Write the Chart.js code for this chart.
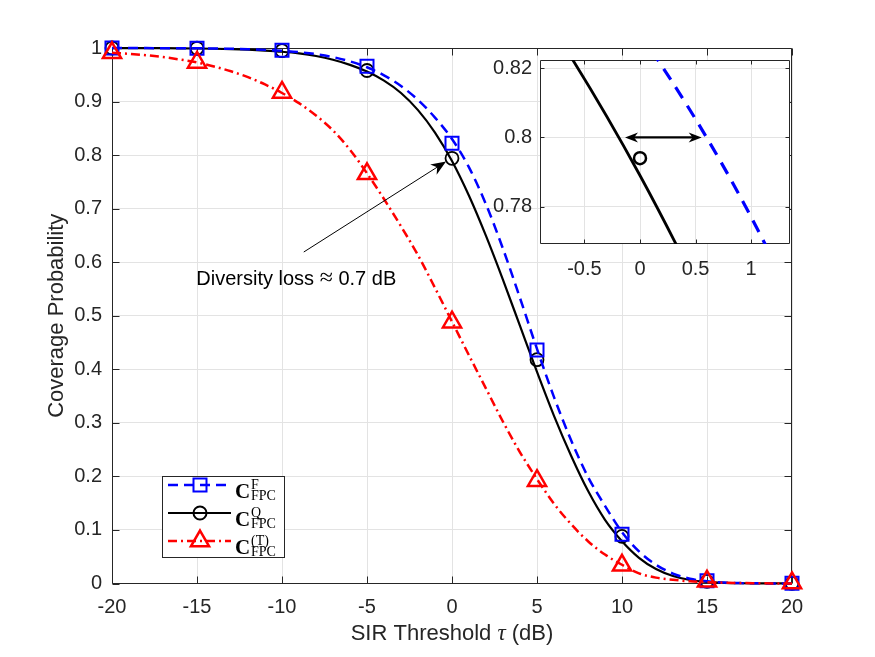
<!DOCTYPE html>
<html>
<head>
<meta charset="utf-8">
<script src="https://cdn.jsdelivr.net/npm/chart.js@4.4.0/dist/chart.umd.min.js"></script>
<style>
  html, body { margin: 0; padding: 0; background: #fff; }
  #wrap { position: relative; width: 875px; height: 657px; }
  #main { position: absolute; left: 0; top: 0; }
  #inset { position: absolute; left: 470px; top: 40px; }
</style>
</head>
<body>
<div id="wrap">
  <canvas id="main" width="875" height="657"></canvas>
  <canvas id="inset" width="405" height="250"></canvas>
</div>
<script>
// ===== Datos =====
const sirDb = [-20,-19,-18,-17,-16,-15,-14,-13,-12,-11,-10,-9,-8,-7,-6,-5,-4,-3,-2,-1,0,
               1,2,3,4,5,6,7,8,9,10,11,12,13,14,15,16,17,18,19,20];
// C_FPC^F (analítica, azul discontinua)
const covF = [1.0000,0.9999,0.9998,0.9997,0.9996,0.9994,0.9990,0.9985,0.9977,0.9965,0.9948,
              0.9922,0.9885,0.9830,0.9750,0.9640,0.9490,0.9290,0.9030,0.8700,0.8300,
              0.7770,0.7080,0.6250,0.5330,0.4380,0.3480,0.2680,0.1990,0.1450,0.0960,
              0.0600,0.0350,0.0185,0.0090,0.0040,0.0017,0.0007,0.0003,0.0001,0.0000];
// C_FPC^Q (analítica, negra)
const covQ = [0.9999,0.9998,0.9997,0.9996,0.9994,0.9991,0.9986,0.9979,0.9968,0.9952,0.9930,
              0.9898,0.9850,0.9780,0.9685,0.9560,0.9390,0.9160,0.8840,0.8420,0.7890,
              0.7240,0.6490,0.5670,0.4810,0.3950,0.3130,0.2390,0.1730,0.1190,0.0790,
              0.0480,0.0270,0.0140,0.0066,0.0030,0.0013,0.0005,0.0002,0.0001,0.0000];
// C_FPC^(T) (analítica, roja punto-raya)
const covT = [0.9910,0.9890,0.9865,0.9830,0.9785,0.9730,0.9655,0.9565,0.9455,0.9320,0.9160,
              0.8970,0.8740,0.8460,0.8100,0.7660,0.7180,0.6670,0.6130,0.5520,0.4890,
              0.4260,0.3640,0.3020,0.2450,0.1950,0.1490,0.1110,0.0790,0.0540,0.0350,
              0.0190,0.0110,0.0070,0.0040,0.0025,0.0015,0.0009,0.0005,0.0002,0.0001];
// marcadores (simulación)
const simDb = [-20,-15,-10,-5,0,5,10,15,20];
const simF = [1.0000,0.9995,0.9960,0.9660,0.8220,0.4360,0.0920,0.0050,0.0005];
const simQ = [1.0000,0.9995,0.9950,0.9580,0.7940,0.4180,0.0880,0.0040,0.0003];
const simT = [0.9910,0.9730,0.9170,0.7650,0.4880,0.1920,0.0340,0.0040,0.0010];
// ticks
const xTicks = [-20,-15,-10,-5,0,5,10,15,20];
const yTicks = [0,0.1,0.2,0.3,0.4,0.5,0.6,0.7,0.8,0.9,1];
const insetXTicks = [-0.5,0,0.5,1];
const insetYTicks = [0.78,0.8,0.82];
// marcador que aparece en el zoom
const insetSimDb = [0];
const insetSimQ = [0.794];

const SANS = "'Liberation Sans', Arial, Helvetica, sans-serif";
const SERIF = "'Liberation Serif', 'Times New Roman', serif";
const AXIS = '#262626';
const GRID = '#e3e3e3';
const BLUE = '#0000ff', RED = '#ff0000', BLACK = '#000000';

const pts = (xs, ys) => xs.map((x, i) => ({ x: x, y: ys[i] }));

function setTicks(arr) {
  return scale => { scale.ticks = arr.map(v => ({ value: v })); };
}
const fmt = v => String(Number(v.toFixed(3)));

// Caja estilo MATLAB con ticks hacia dentro
function drawFrame(chart, tickLen) {
  const { ctx, chartArea: a, scales: { x, y } } = chart;
  const L = Math.round(a.left) + 0.5, R = Math.round(a.right) - 0.5;
  const T = Math.round(a.top) + 0.5, B = Math.round(a.bottom) - 0.5;
  ctx.save();
  ctx.strokeStyle = AXIS;
  ctx.lineWidth = 1;
  ctx.beginPath();
  ctx.rect(L, T, R - L, B - T);
  x.ticks.forEach(t => {
    const px = Math.round(x.getPixelForValue(t.value)) + 0.5;
    ctx.moveTo(px, B); ctx.lineTo(px, B - tickLen);
    ctx.moveTo(px, T); ctx.lineTo(px, T + tickLen);
  });
  y.ticks.forEach(t => {
    const py = Math.round(y.getPixelForValue(t.value)) + 0.5;
    ctx.moveTo(L, py); ctx.lineTo(L + tickLen, py);
    ctx.moveTo(R, py); ctx.lineTo(R - tickLen, py);
  });
  ctx.stroke();
  ctx.restore();
}

function arrowHead(ctx, x0, y0, x1, y1, len, half) {
  const ang = Math.atan2(y1 - y0, x1 - x0);
  ctx.save();
  ctx.translate(x1, y1);
  ctx.rotate(ang);
  ctx.beginPath();
  ctx.moveTo(0, 0);
  ctx.lineTo(-len, -half);
  ctx.lineTo(-len * 0.7, 0);
  ctx.lineTo(-len, half);
  ctx.closePath();
  ctx.fill();
  ctx.restore();
}

// marcadores para la leyenda
function marker(ctx, kind, x, y) {
  ctx.save();
  ctx.beginPath();
  if (kind === 'rect') {
    ctx.strokeStyle = BLUE; ctx.lineWidth = 2;
    ctx.rect(x - 6.5, y - 6.5, 13, 13);
  } else if (kind === 'circle') {
    ctx.strokeStyle = BLACK; ctx.lineWidth = 2;
    ctx.arc(x, y, 6.5, 0, Math.PI * 2);
  } else {
    ctx.strokeStyle = RED; ctx.lineWidth = 2.5;
    const r = 10.5;
    ctx.moveTo(x, y - r);
    ctx.lineTo(x + r * Math.sin(2 * Math.PI / 3), y - r * Math.cos(2 * Math.PI / 3));
    ctx.lineTo(x + r * Math.sin(4 * Math.PI / 3), y - r * Math.cos(4 * Math.PI / 3));
    ctx.closePath();
  }
  ctx.stroke();
  ctx.restore();
}

const legendItems = [
  { color: BLUE,  width: 2.5, dash: [10, 6],       mk: 'rect',     sup: 'F' },
  { color: BLACK, width: 2.2, dash: [],            mk: 'circle',   sup: 'Q' },
  { color: RED,   width: 2.5, dash: [9, 4, 2, 4],  mk: 'triangle', sup: '(T)' }
];

// escribe trozos de texto con fuentes distintas, uno tras otro
function drawParts(ctx, parts, x, y, align) {
  let total = 0;
  parts.forEach(p => { ctx.font = p[1]; total += ctx.measureText(p[0]).width; });
  let cx = align === 'center' ? x - total / 2 : x;
  ctx.textAlign = 'left';
  parts.forEach(p => { ctx.font = p[1]; ctx.fillText(p[0], cx, y); cx += ctx.measureText(p[0]).width; });
}

const mainDecor = {
  id: 'mainDecor',
  beforeDatasetsDraw(chart) { drawFrame(chart, 7); },
  afterDraw(chart) {
    const { ctx, chartArea: a, scales: { x, y } } = chart;
    ctx.save();
    ctx.fillStyle = AXIS;

    // Título eje x con tau en cursiva
    ctx.textBaseline = 'middle';
    drawParts(ctx, [['SIR Threshold ', '22px ' + SANS], ['\u03C4', 'italic 23px ' + SERIF], [' (dB)', '22px ' + SANS]],
      (a.left + a.right) / 2, 634, 'center');

    // Título eje y
    ctx.save();
    ctx.translate(57, (a.top + a.bottom) / 2);
    ctx.rotate(-Math.PI / 2);
    ctx.textAlign = 'center';
    ctx.font = '22px ' + SANS;
    ctx.fillText('Coverage Probability', 0, 0);
    ctx.restore();

    // Flecha + texto de la pérdida de diversidad
    const x0 = x.getPixelForValue(-8.72), y0 = y.getPixelForValue(0.619);
    const x1 = x.getPixelForValue(-0.35), y1 = y.getPixelForValue(0.788);
    const ang = Math.atan2(y1 - y0, x1 - x0);
    ctx.strokeStyle = BLACK; ctx.fillStyle = BLACK; ctx.lineWidth = 1;
    ctx.beginPath(); ctx.moveTo(x0, y0); ctx.lineTo(x1 - 8 * Math.cos(ang), y1 - 8 * Math.sin(ang)); ctx.stroke();
    arrowHead(ctx, x0, y0, x1, y1, 15, 6);
    ctx.textBaseline = 'alphabetic';
    drawParts(ctx, [['Diversity loss ', '20px ' + SANS], ['\u2248', '24px ' + SERIF], [' 0.7 dB', '20px ' + SANS]],
      x.getPixelForValue(-15.04), y.getPixelForValue(0.557), 'left');

    // Leyenda
    const bx = 162.5, by = 476.5, bw = 122, bh = 81;
    ctx.fillStyle = '#fff';
    ctx.fillRect(bx, by, bw, bh);
    ctx.strokeStyle = AXIS; ctx.lineWidth = 1;
    ctx.strokeRect(bx, by, bw, bh);
    const rows = [485, 513, 541];
    legendItems.forEach((it, i) => {
      const ly = rows[i];
      ctx.save();
      ctx.strokeStyle = it.color; ctx.lineWidth = it.width; ctx.setLineDash(it.dash);
      ctx.beginPath(); ctx.moveTo(168, ly); ctx.lineTo(231, ly); ctx.stroke();
      ctx.restore();
      marker(ctx, it.mk, 200, ly);
      ctx.fillStyle = BLACK;
      ctx.textAlign = 'left';
      ctx.font = 'bold 21px ' + SERIF;
      ctx.fillText('C', 235, ly + 12.5);
      ctx.font = '14px ' + SERIF;
      ctx.fillText(it.sup, 251, ly + 4);
      ctx.fillText('FPC', 251, ly + 15);
    });
    ctx.restore();
  }
};

const insetDecor = {
  id: 'insetDecor',
  beforeDraw(chart) {
    const { ctx, chartArea: a } = chart;
    ctx.save();
    ctx.fillStyle = '#fff';
    ctx.fillRect(a.left, a.top, a.right - a.left, a.bottom - a.top);
    ctx.restore();
  },
  beforeDatasetsDraw(chart) { drawFrame(chart, 4); },
  afterDraw(chart) {
    const { ctx, scales: { x, y } } = chart;
    const yy = y.getPixelForValue(0.8);
    const xa = x.getPixelForValue(-0.135), xb = x.getPixelForValue(0.555);
    ctx.save();
    ctx.strokeStyle = BLACK; ctx.fillStyle = BLACK; ctx.lineWidth = 2.3;
    ctx.beginPath(); ctx.moveTo(xa + 8, yy); ctx.lineTo(xb - 8, yy); ctx.stroke();
    arrowHead(ctx, xb, yy, xa, yy, 13, 5);
    arrowHead(ctx, xa, yy, xb, yy, 13, 5);
    ctx.restore();
  }
};

const tickFont = { family: SANS, size: 20 };

// ===== Gráfico principal =====
new Chart(document.getElementById('main'), {
  type: 'line',
  data: {
    datasets: [
      { data: pts(sirDb, covT), borderColor: RED, borderWidth: 2.5, borderDash: [9, 4, 2, 4],
        pointRadius: 0, cubicInterpolationMode: 'monotone', fill: false, clip: false },
      { data: pts(simDb, simT), showLine: false, pointStyle: 'triangle', pointRadius: 10.5,
        pointBorderColor: RED, pointBorderWidth: 2.5, pointBackgroundColor: 'rgba(0,0,0,0)', clip: false },
      { data: pts(sirDb, covF), borderColor: BLUE, borderWidth: 2.5, borderDash: [10, 6],
        pointRadius: 0, cubicInterpolationMode: 'monotone', fill: false, clip: false },
      { data: pts(simDb, simF), showLine: false, pointStyle: 'rect', pointRadius: 9.2,
        pointBorderColor: BLUE, pointBorderWidth: 2, pointBackgroundColor: 'rgba(0,0,0,0)', clip: false },
      { data: pts(sirDb, covQ), borderColor: BLACK, borderWidth: 2.2,
        pointRadius: 0, cubicInterpolationMode: 'monotone', fill: false, clip: false },
      { data: pts(simDb, simQ), showLine: false, pointStyle: 'circle', pointRadius: 6.5,
        pointBorderColor: BLACK, pointBorderWidth: 1.8, pointBackgroundColor: 'rgba(0,0,0,0)', clip: false }
    ]
  },
  options: {
    responsive: false,
    animation: false,
    events: [],
    layout: { padding: { left: 0, top: 48, right: 83, bottom: 0 } },
    plugins: { legend: { display: false }, tooltip: { enabled: false } },
    scales: {
      x: {
        type: 'linear', min: -20, max: 20,
        afterBuildTicks: setTicks(xTicks),
        afterFit: s => { s.height = 73.5; },
        grid: { color: GRID, lineWidth: 1, drawTicks: false },
        border: { display: false },
        ticks: { color: AXIS, font: tickFont, padding: 12, maxRotation: 0, autoSkip: false, callback: fmt }
      },
      y: {
        type: 'linear', min: 0, max: 1,
        afterBuildTicks: setTicks(yTicks),
        afterFit: s => { s.width = 112; },
        grid: { color: GRID, lineWidth: 1, drawTicks: false },
        border: { display: false },
        ticks: { color: AXIS, font: tickFont, padding: 10, autoSkip: false, callback: fmt }
      }
    }
  },
  plugins: [mainDecor]
});

// ===== Zoom (inset) =====
new Chart(document.getElementById('inset'), {
  type: 'line',
  data: {
    datasets: [
      { data: pts(insetSimDb, insetSimQ), showLine: false, pointStyle: 'circle', pointRadius: 6,
        pointBorderColor: BLACK, pointBorderWidth: 2.5, pointBackgroundColor: 'rgba(0,0,0,0)' },
      { data: pts(sirDb, covF), borderColor: BLUE, borderWidth: 3.2, borderDash: [13, 9],
        pointRadius: 0, cubicInterpolationMode: 'monotone', fill: false },
      { data: pts(sirDb, covQ), borderColor: BLACK, borderWidth: 2.8,
        pointRadius: 0, cubicInterpolationMode: 'monotone', fill: false }
    ]
  },
  options: {
    responsive: false,
    animation: false,
    events: [],
    layout: { padding: { left: 0, top: 12, right: 85, bottom: 0 } },
    plugins: { legend: { display: false }, tooltip: { enabled: false } },
    scales: {
      x: {
        type: 'linear', min: -0.9, max: 1.35,
        afterBuildTicks: setTicks(insetXTicks),
        afterFit: s => { s.height = 46; },
        grid: { color: GRID, lineWidth: 1, drawTicks: false },
        border: { display: false },
        ticks: { color: AXIS, font: tickFont, padding: 13, maxRotation: 0, autoSkip: false, callback: fmt }
      },
      y: {
        type: 'linear', min: 0.7692, max: 0.8224,
        afterBuildTicks: setTicks(insetYTicks),
        afterFit: s => { s.width = 70; },
        grid: { color: GRID, lineWidth: 1, drawTicks: false },
        border: { display: false },
        ticks: { color: AXIS, font: tickFont, padding: 8, autoSkip: false, callback: fmt }
      }
    }
  },
  plugins: [insetDecor]
});
</script>
</body>
</html>
